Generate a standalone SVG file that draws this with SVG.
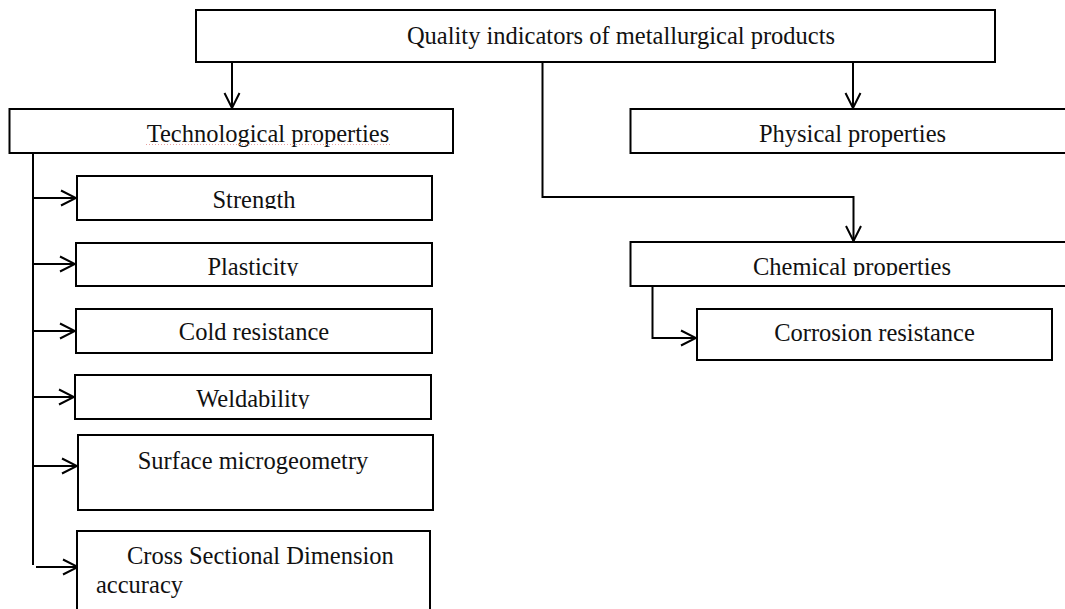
<svg xmlns="http://www.w3.org/2000/svg" width="1065" height="609" viewBox="0 0 1065 609">
<style>
.box{fill:#fff;stroke:#000;stroke-width:2}
.lbl{font-family:"Liberation Serif","Times New Roman",serif;font-size:24.5px;fill:#111;text-anchor:middle}
.st{text-anchor:start}
.con{fill:none;stroke:#000;stroke-width:2}
</style>
<defs>
<marker id="ah" viewBox="-17 -9 19 18" refX="0" refY="0" markerWidth="19" markerHeight="18" markerUnits="userSpaceOnUse" orient="auto">
<path d="M-15,-7.5 L0,0 L-15,7.5" fill="none" stroke="#000" stroke-width="2"/>
</marker>
<clipPath id="cStrength"><rect x="78" y="177" width="353" height="32"/></clipPath>
<clipPath id="cPlast"><rect x="77" y="244" width="354" height="32"/></clipPath>
<clipPath id="cWeld"><rect x="76" y="376" width="354" height="33"/></clipPath>
<clipPath id="cChem"><rect x="631" y="243" width="440" height="33"/></clipPath>
</defs>
<g id="connectors">
<path class="con" d="M232,62 V108" marker-end="url(#ah)"/>
<path class="con" d="M853,62 V108" marker-end="url(#ah)"/>
<path class="con" d="M542.5,62 V197 H853.5 V241" marker-end="url(#ah)"/>
<path class="con" d="M33,153 V565"/>
<path class="con" d="M33,198 H76" marker-end="url(#ah)"/>
<path class="con" d="M33,264 H75" marker-end="url(#ah)"/>
<path class="con" d="M33,331 H75" marker-end="url(#ah)"/>
<path class="con" d="M33,397 H74" marker-end="url(#ah)"/>
<path class="con" d="M33,466 H77" marker-end="url(#ah)"/>
<path class="con" d="M36,567 H78" marker-end="url(#ah)"/>
<path class="con" d="M652.5,286 V338 H696" marker-end="url(#ah)"/>
</g>
<g id="n-top">
<rect class="box" x="196" y="10" width="799" height="52"/>
<text class="lbl" x="621" y="44">Quality indicators of metallurgical products</text>
</g>
<g id="n-tech">
<rect class="box" x="9.5" y="109" width="443.5" height="44"/>
<text class="lbl" x="268" y="142">Technological properties</text>
<line x1="146" y1="144.5" x2="390" y2="144.5" stroke="#e8a0a0" stroke-width="1" stroke-dasharray="1,2"/>
</g>
<g id="n-phys">
<rect class="box" x="630.5" y="109" width="440" height="44"/>
<text class="lbl" x="852.5" y="142">Physical properties</text>
</g>
<g id="n-chem">
<rect class="box" x="630.5" y="242" width="440" height="44"/>
<text class="lbl" x="852" y="275" clip-path="url(#cChem)">Chemical properties</text>
</g>
<g id="n-corr">
<rect class="box" x="697" y="309" width="355" height="51"/>
<text class="lbl" x="874.5" y="341">Corrosion resistance</text>
</g>
<g id="n-strength">
<rect class="box" x="77" y="176" width="355" height="44"/>
<text class="lbl" x="254" y="208" clip-path="url(#cStrength)">Strength</text>
</g>
<g id="n-plast">
<rect class="box" x="76" y="243" width="356" height="43"/>
<text class="lbl" x="253" y="275" clip-path="url(#cPlast)">Plasticity</text>
</g>
<g id="n-cold">
<rect class="box" x="76" y="309" width="356" height="44"/>
<text class="lbl" x="254" y="340">Cold resistance</text>
</g>
<g id="n-weld">
<rect class="box" x="75" y="375" width="356" height="44"/>
<text class="lbl" x="253" y="407" clip-path="url(#cWeld)">Weldability</text>
</g>
<g id="n-surf">
<rect class="box" x="78" y="435" width="355" height="75"/>
<text class="lbl" x="253" y="469">Surface microgeometry</text>
</g>
<g id="n-cross">
<rect class="box" x="77" y="531" width="353" height="90"/>
<text class="lbl st" x="127" y="564">Cross Sectional Dimension</text>
<text class="lbl st" x="96" y="593">accuracy</text>
</g>
</svg>
